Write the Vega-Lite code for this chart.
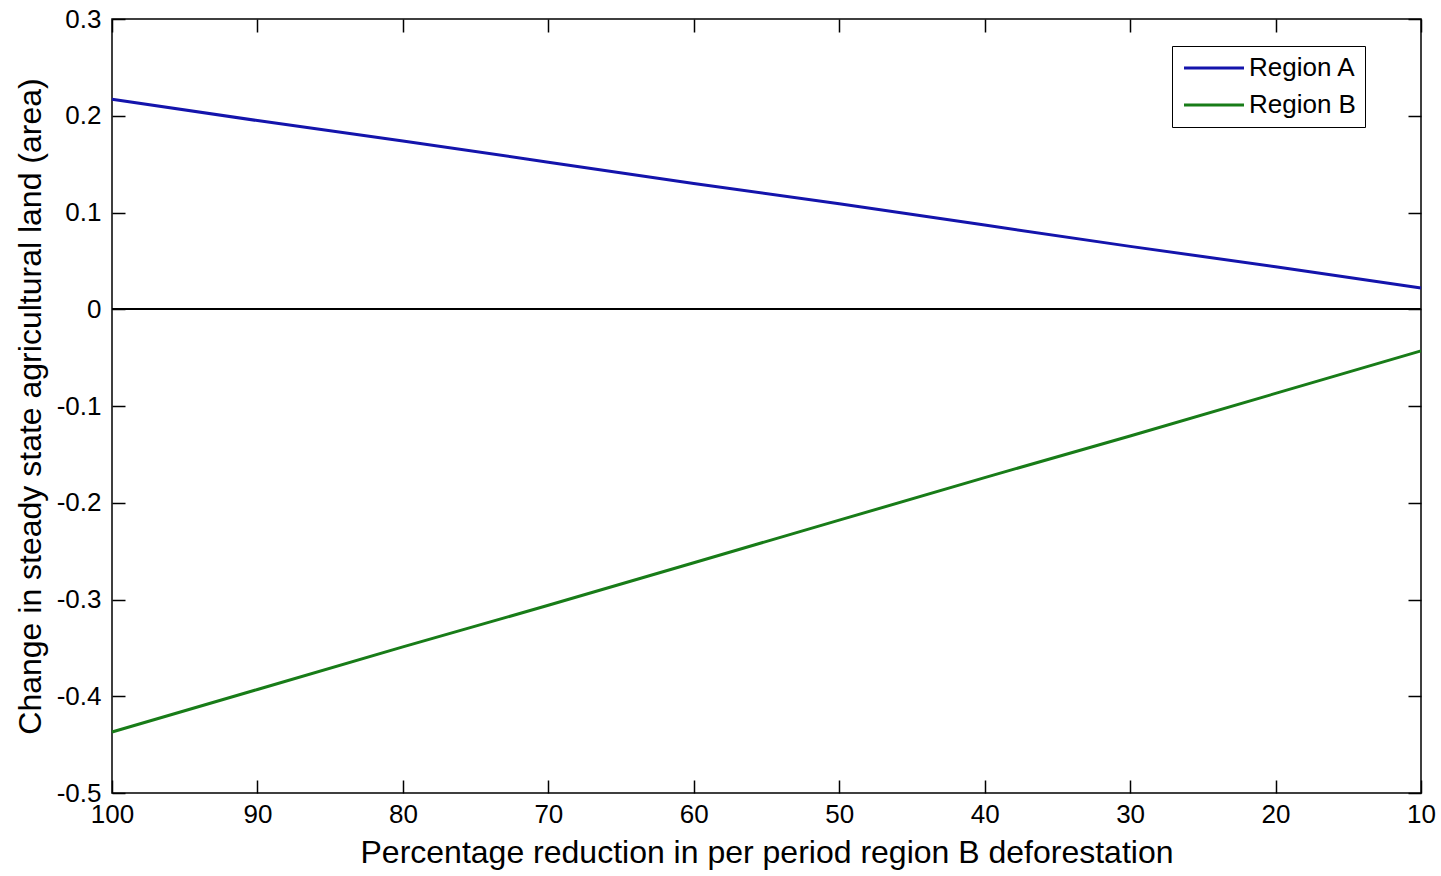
{
  "$schema": "https://vega.github.io/schema/vega-lite/v6.json",
  "width": 1309,
  "height": 774,
  "autosize": {"type": "none"},
  "padding": {"left": 112, "top": 19, "right": 20, "bottom": 83},
  "background": "white",
  "config": {
    "font": "Liberation Sans",
    "view": {"stroke": "black", "strokeWidth": 1.5},
    "axis": {
      "domain": false,
      "grid": false,
      "ticks": true,
      "tickColor": "black",
      "tickWidth": 1.5,
      "tickSize": -13,
      "labelColor": "black",
      "labelFont": "Liberation Sans",
      "labelFontSize": 26,
      "labelFlush": false,
      "labelOverlap": false,
      "titleFont": "Liberation Sans",
      "titleFontSize": 32,
      "titleFontWeight": "normal",
      "titleColor": "black"
    }
  },
  "data": {
    "values": [
      {"pct": 100, "value": 0.217, "series": "Region A"},
      {"pct": 90, "value": 0.195, "series": "Region A"},
      {"pct": 80, "value": 0.174, "series": "Region A"},
      {"pct": 70, "value": 0.152, "series": "Region A"},
      {"pct": 60, "value": 0.130, "series": "Region A"},
      {"pct": 50, "value": 0.109, "series": "Region A"},
      {"pct": 40, "value": 0.087, "series": "Region A"},
      {"pct": 30, "value": 0.065, "series": "Region A"},
      {"pct": 20, "value": 0.044, "series": "Region A"},
      {"pct": 10, "value": 0.022, "series": "Region A"},
      {"pct": 100, "value": -0.437, "series": "Region B"},
      {"pct": 90, "value": -0.393, "series": "Region B"},
      {"pct": 80, "value": -0.349, "series": "Region B"},
      {"pct": 70, "value": -0.306, "series": "Region B"},
      {"pct": 60, "value": -0.262, "series": "Region B"},
      {"pct": 50, "value": -0.218, "series": "Region B"},
      {"pct": 40, "value": -0.174, "series": "Region B"},
      {"pct": 30, "value": -0.131, "series": "Region B"},
      {"pct": 20, "value": -0.087, "series": "Region B"},
      {"pct": 10, "value": -0.043, "series": "Region B"}
    ]
  },
  "layer": [
    {
      "mark": {"type": "rule", "color": "black", "strokeWidth": 1.5},
      "encoding": {
        "y": {"datum": 0, "type": "quantitative", "axis": null}
      }
    },
    {
      "mark": {"type": "line", "strokeWidth": 3},
      "encoding": {
        "x": {
          "field": "pct",
          "type": "quantitative",
          "scale": {"domain": [10, 100], "reverse": true, "nice": false, "zero": false},
          "axis": {
            "orient": "bottom",
            "values": [100, 90, 80, 70, 60, 50, 40, 30, 20, 10],
            "labelPadding": 21,
            "title": "Percentage reduction in per period region B deforestation",
            "titlePadding": 10
          }
        },
        "y": {
          "field": "value",
          "type": "quantitative",
          "scale": {"domain": [-0.5, 0.3], "nice": false, "zero": false},
          "axis": {
            "orient": "left",
            "values": [-0.5, -0.4, -0.3, -0.2, -0.1, 0, 0.1, 0.2, 0.3],
            "labelExpr": "replace(format(datum.value, '.1~f'), '\u2212', '-')",
            "labelPadding": 24,
            "title": "Change in steady state agricultural land (area)",
            "titlePadding": 9
          }
        },
        "color": {
          "field": "series",
          "type": "nominal",
          "scale": {"domain": ["Region A", "Region B"], "range": ["#1414ac", "#187c18"]},
          "legend": {
            "orient": "none",
            "legendX": 1060,
            "legendY": 27,
            "title": null,
            "direction": "vertical",
            "symbolType": "M-1,0H5",
            "symbolSize": 400,
            "symbolStrokeWidth": 3,
            "labelFontSize": 26,
            "labelFont": "Liberation Sans",
            "labelColor": "black",
            "labelOffset": 42,
            "rowPadding": 11,
            "strokeColor": "black",
            "fillColor": "white",
            "padding": 9
          }
        }
      }
    },
    {
      "mark": {"type": "line", "opacity": 0},
      "encoding": {
        "x": {
          "field": "pct",
          "type": "quantitative",
          "axis": {"orient": "top", "values": [100, 90, 80, 70, 60, 50, 40, 30, 20, 10], "labels": false, "title": null}
        },
        "y": {
          "field": "value",
          "type": "quantitative",
          "axis": {"orient": "right", "values": [-0.5, -0.4, -0.3, -0.2, -0.1, 0, 0.1, 0.2, 0.3], "labels": false, "title": null}
        },
        "detail": {"field": "series"}
      }
    }
  ],
  "resolve": {"axis": {"x": "independent", "y": "independent"}}
}
